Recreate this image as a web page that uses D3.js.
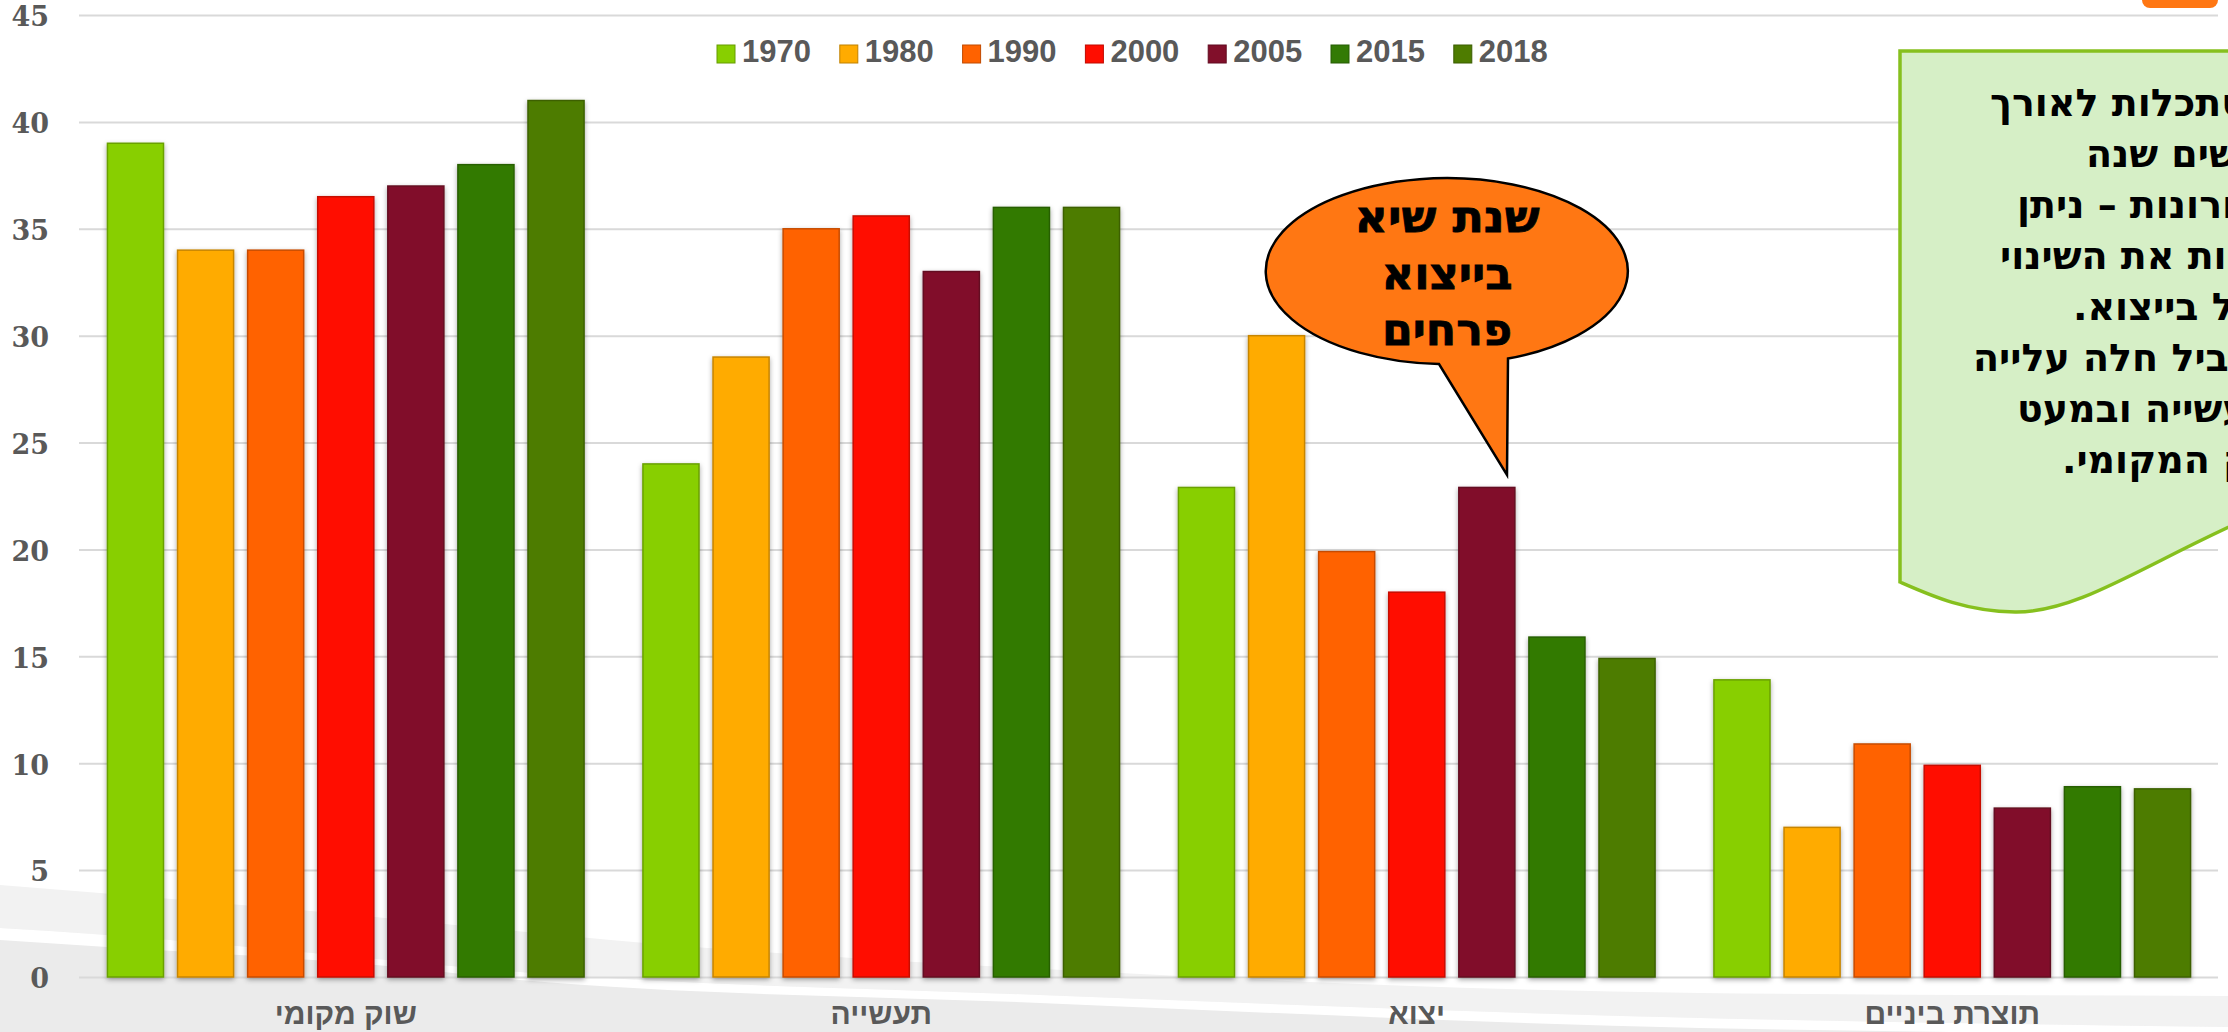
<!DOCTYPE html>
<html><head><meta charset="utf-8">
<script src="https://cdn.jsdelivr.net/npm/d3@7"></script>
<style>html,body{margin:0;padding:0;background:#fff;overflow:hidden}</style>
</head><body>
<svg id="chart" width="2228" height="1032"></svg>
<script>
// ---- data ----
const categories = ["שוק מקומי", "תעשייה", "יצוא", "תוצרת ביניים"];
const years = ["1970", "1980", "1990", "2000", "2005", "2015", "2018"];
const v1970 = [39, 24, 22.9, 13.9];
const v1980 = [34, 29, 30, 7];
const v1990 = [34, 35, 19.9, 10.9];
const v2000 = [36.5, 35.6, 18, 9.9];
const v2005 = [37, 33, 22.9, 7.9];
const v2015 = [38, 36, 15.9, 8.9];
const v2018 = [41, 36, 14.9, 8.8];
const yTicks = [0, 5, 10, 15, 20, 25, 30, 35, 40, 45];
const colors = ["#88CF00", "#FFAB00", "#FF6200", "#FF0D00", "#810F2A", "#337A05", "#4E7C00"];
const bubbleLines = ["שנת שיא", "בייצוא", "פרחים"];
const noteLines = ["בהסתכלות לאורך", "חמישים שנה", "האחרונות – ניתן", "לראות את השינוי", "הגדול בייצוא.", "במקביל חלה עלייה", "בתעשייה ובמעט", "בשוק המקומי."];

(function () {
const seriesValues = [v1970, v1980, v1990, v2000, v2005, v2015, v2018];
const table = categories.map((c, i) => ({cat: c, vals: years.map((yr, j) => ({year: yr, value: seriesValues[j][i], color: colors[j]}))}));

const svg = d3.select("#chart");
const pLeft = 78, pRight = 2220, pTop = 15, pBottom = 977;

// ---- background swooshes ----
const defs = svg.append("defs");
const f = defs.append("filter").attr("id", "sh").attr("x", "-20%").attr("y", "-5%").attr("width", "140%").attr("height", "110%");
f.append("feDropShadow").attr("dx", 0).attr("dy", 2).attr("stdDeviation", 2.5).attr("flood-color", "#000").attr("flood-opacity", 0.35);

const curve = d3.line().curve(d3.curveMonotoneX);
const aTop = [[0,885],[300,910],[645,943],[1100,972],[1700,993],[2228,996]];
const wTop = [[0,928],[107,935],[387,960],[520,972],[1040,995],[1700,1018],[2228,1027]];
const wBot = [[0,940],[107,947],[387,966],[520,980],[1040,1003],[1700,1028],[2228,1034]];
const bg = svg.append("g");
bg.append("path").attr("d", curve(aTop) + "L2228,1032L0,1032Z").attr("fill", "#f2f2f2");
bg.append("path").attr("d", curve(wTop) + "L2228,1032L0,1032Z").attr("fill", "#ebebeb");
bg.append("path").attr("d", curve(wTop) + "L" + curve(wBot.slice().reverse()).slice(1) + "Z").attr("fill", "#ffffff");

// ---- scales ----
const y = d3.scaleLinear().domain([0, 45]).range([pBottom, pTop]);
const x0 = d3.scaleBand().domain(categories).range([pLeft, pRight]).padding(0);
const x1 = d3.scaleBand().domain(years).range([0, x0.bandwidth()]).paddingInner(0.2).paddingOuter(0.42);

// ---- y axis / gridlines ----
const yAxis = svg.append("g").attr("transform", `translate(${pLeft + 1},0)`)
  .call(d3.axisLeft(y).tickValues(yTicks).tickSize(-(2218 - pLeft - 1)).tickPadding(30).tickFormat(d3.format("d")));
yAxis.select(".domain").remove();
yAxis.selectAll(".tick line").attr("stroke", "#d9d9d9").attr("stroke-width", 2);
yAxis.selectAll(".tick text").attr("fill", "#595959").attr("font-family", "DejaVu Serif, Liberation Serif, serif")
  .attr("font-weight", "bold").attr("font-size", 27).attr("dy", "0.4em");

// ---- bars ----
const groups = svg.append("g").selectAll("g").data(table).join("g")
  .attr("transform", d => `translate(${x0(d.cat)},0)`);
groups.selectAll("rect").data(d => d.vals).join("rect")
  .attr("x", d => x1(d.year))
  .attr("y", d => y(d.value))
  .attr("width", x1.bandwidth())
  .attr("height", d => y(0) - y(d.value))
  .attr("fill", d => d.color)
  .attr("stroke", d => d3.color(d.color).darker(0.7))
  .attr("stroke-width", 1.5)
  .attr("filter", "url(#sh)");

// ---- x axis labels ----
const xAxis = svg.append("g").attr("transform", `translate(0,${pBottom})`)
  .call(d3.axisBottom(x0).tickSize(0).tickPadding(26));
xAxis.select(".domain").remove();
xAxis.selectAll(".tick text").attr("fill", "#595959").attr("font-family", "Liberation Sans, DejaVu Sans, sans-serif")
  .attr("font-weight", "bold").attr("font-size", 30);

// ---- legend ----
const legend = svg.append("g").attr("transform", "translate(717,0)");
const li = legend.selectAll("g").data(years).join("g").attr("transform", (d, i) => `translate(${i * 122.8},0)`);
li.append("rect").attr("x", 0).attr("y", 45).attr("width", 18).attr("height", 18)
  .attr("fill", (d, i) => colors[i]).attr("stroke", (d, i) => d3.color(colors[i]).darker(0.8)).attr("stroke-width", 1);
li.append("text").attr("x", 25).attr("y", 62).text(d => d)
  .attr("fill", "#595959").attr("font-family", "Liberation Sans, DejaVu Sans, sans-serif")
  .attr("font-weight", "bold").attr("font-size", 31);

// ---- orange tab top right ----
svg.append("rect").attr("x", 2142).attr("y", -12).attr("width", 76).attr("height", 20).attr("rx", 8).attr("fill", "#FF7713");

// ---- speech bubble ----
svg.append("path")
  .attr("d", "M1439,364 A181,93 0 1 1 1508,358.6 L1507,475 Z")
  .attr("fill", "#FF7713").attr("stroke", "#000").attr("stroke-width", 2.5).attr("stroke-linejoin", "miter");
const bubbleWidths = [185, 131, 130];
svg.append("g").selectAll("text").data(bubbleLines).join("text")
  .attr("x", 1447).attr("y", (d, i) => 232 + i * 56.5)
  .attr("text-anchor", "middle").attr("fill", "#000")
  .attr("font-family", "DejaVu Sans, Liberation Sans, sans-serif").attr("font-weight", "bold").attr("font-size", 44)
  .attr("textLength", (d, i) => bubbleWidths[i]).attr("lengthAdjust", "spacingAndGlyphs")
  .style("stroke", "#000").style("stroke-width", 0.8)
  .text(d => d);

// ---- note box ----
svg.append("path")
  .attr("d", "M1900,51 H2262 V512 C2150,560 2080,613 2015,612 C1965,611 1932,596 1900,582 Z")
  .attr("fill", "#D6EFC6").attr("stroke", "#86C01E").attr("stroke-width", 3.5);
const noteLeft = [1990, 2086, 2017, 2000, 2073, 1973, 2017, 2062];
svg.append("g").selectAll("text").data(noteLines).join("text")
  .attr("x", (d, i) => noteLeft[i]).attr("y", (d, i) => 116 + i * 51)
  .attr("direction", "rtl").attr("text-anchor", "end").attr("fill", "#000")
  .attr("font-family", "DejaVu Sans, Liberation Sans, sans-serif").attr("font-weight", "bold").attr("font-size", 38)
  .text(d => d);
})();
</script>
</body></html>
